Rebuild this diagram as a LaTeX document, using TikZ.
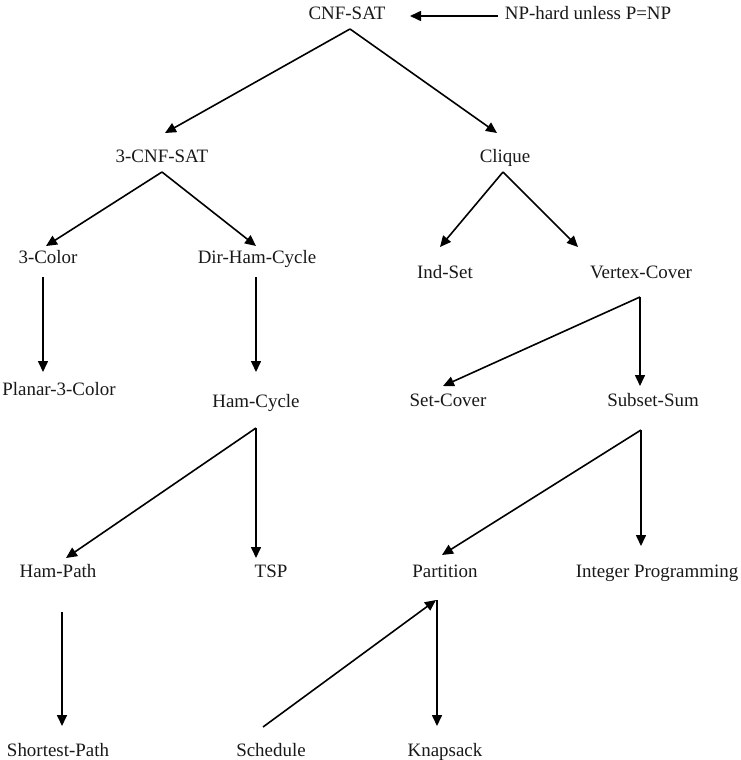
\documentclass[tikz,border=0pt]{standalone}
\usepackage{fontspec}
\setmainfont{Liberation Serif}
\usetikzlibrary{arrows.meta}
\begin{document}
\begin{tikzpicture}[x=1bp,y=-1bp,
  lbl/.style={anchor=base,inner sep=0pt,font=\fontsize{19}{21}\selectfont,text=black!90},
  arr/.style={line width=1.6bp,-{Triangle[length=11bp,width=10bp]}},
  ln/.style={line width=1.6bp}]
\useasboundingbox[fill=white] (0,0) rectangle (741,760);
% nodes
\node[lbl] (cnf) at (347,20) {CNF-SAT};
\node[lbl] (np) at (588,20) {NP-hard unless P=NP};
\node[lbl] (tcnf) at (162,162) {3-CNF-SAT};
\node[lbl] (clique) at (505,162) {Clique};
\node[lbl] (color) at (48,263) {3-Color};
\node[lbl] (dhc) at (257,263) {Dir-Ham-Cycle};
\node[lbl] (indset) at (445,278) {Ind-Set};
\node[lbl] (vc) at (641,278) {Vertex-Cover};
\node[lbl] (p3c) at (59,395) {Planar-3-Color};
\node[lbl] (hc) at (256,407) {Ham-Cycle};
\node[lbl] (sc) at (448,406) {Set-Cover};
\node[lbl] (ss) at (653,406) {Subset-Sum};
\node[lbl] (hp) at (58,577) {Ham-Path};
\node[lbl] (tsp) at (271,577) {TSP};
\node[lbl] (part) at (445,577) {Partition};
\node[lbl] (ip) at (657,577) {Integer Programming};
\node[lbl] (sp) at (58,756) {Shortest-Path};
\node[lbl] (sched) at (271,756) {Schedule};
\node[lbl] (knap) at (445,756) {Knapsack};
% connector end points
\coordinate (np-o) at (498,16);
\coordinate (cnf-i) at (410,16);
\coordinate (cnf-o) at (350,29);
\coordinate (tcnf-i) at (165,133);
\coordinate (clique-i) at (497,133);
\coordinate (tcnf-o) at (162,172);
\coordinate (color-i) at (46,246);
\coordinate (dhc-i) at (256,246);
\coordinate (color-o) at (43,277);
\coordinate (p3c-i) at (43,372);
\coordinate (dhc-o) at (256,277);
\coordinate (hc-i) at (256,372);
\coordinate (clique-o) at (503,172);
\coordinate (indset-i) at (440,247);
\coordinate (vc-i) at (578,247);
\coordinate (vc-o) at (640,297);
\coordinate (sc-i) at (443,386);
\coordinate (ss-i) at (640,386);
\coordinate (hc-o) at (256,428);
\coordinate (hp-i) at (66,558);
\coordinate (tsp-i) at (256,558);
\coordinate (ss-o) at (641,430);
\coordinate (part-i) at (442,555);
\coordinate (ip-i) at (641,546);
\coordinate (hp-o) at (62,612);
\coordinate (sp-i) at (62,726);
\coordinate (part-o) at (437,600);
\coordinate (knap-i) at (437,726);
\coordinate (sched-o) at (263,727);
\coordinate (part-j) at (436,600);
% connectors
\draw[arr] (np-o) -- (cnf-i);
\draw[arr] (cnf-o) -- (tcnf-i);
\draw[arr] (cnf-o) -- (clique-i);
\draw[arr] (tcnf-o) -- (color-i);
\draw[arr] (tcnf-o) -- (dhc-i);
\draw[arr] (color-o) -- (p3c-i);
\draw[arr] (dhc-o) -- (hc-i);
\draw[arr] (clique-o) -- (indset-i);
\draw[arr] (clique-o) -- (vc-i);
\draw[arr] (vc-o) -- (sc-i);
\draw[arr] (vc-o) -- (ss-i);
\draw[arr] (hc-o) -- (hp-i);
\draw[arr] (hc-o) -- (tsp-i);
\draw[arr] (ss-o) -- (part-i);
\draw[arr] (ss-o) -- (ip-i);
\draw[arr] (hp-o) -- (sp-i);
\draw[arr] (part-o) -- (knap-i);
\draw[arr] (sched-o) -- (part-j);
\end{tikzpicture}
\end{document}
